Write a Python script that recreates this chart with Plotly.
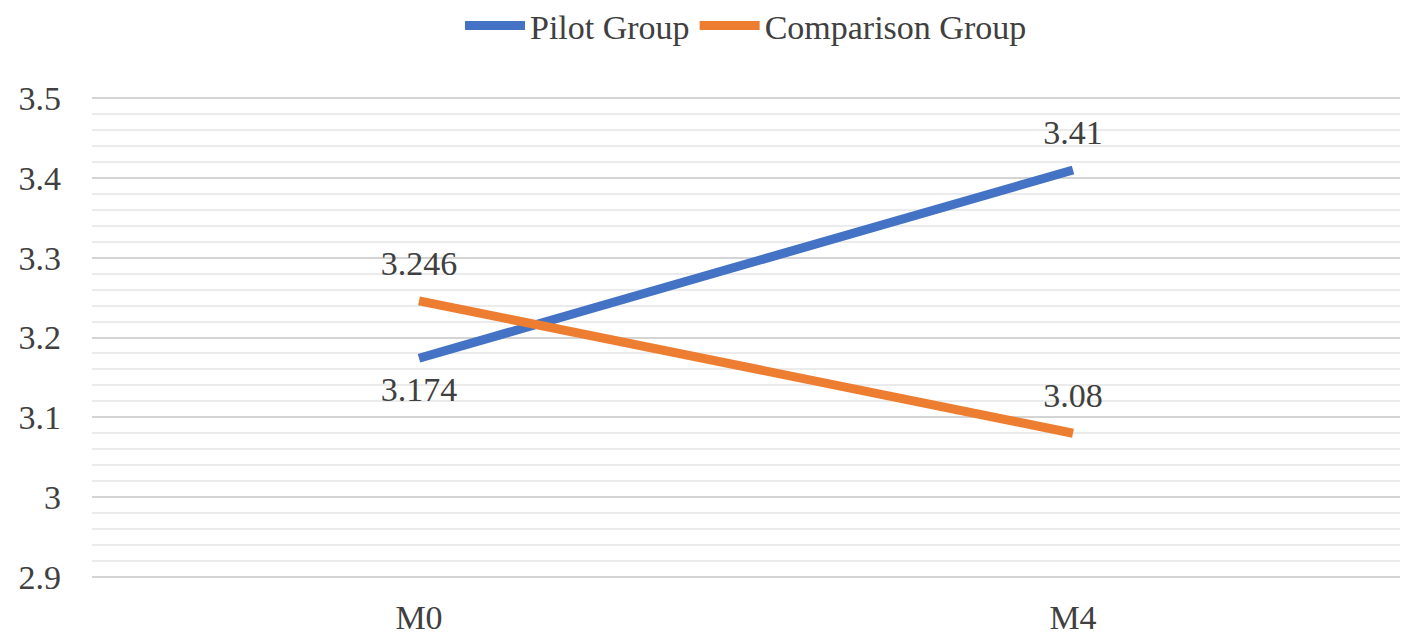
import plotly.graph_objects as go

# data
periods = ['M0', 'M4']
pilot = [3.174, 3.41]
comparison = [3.246, 3.08]
pilot_pos = ['bottom center', 'top center']
comparison_pos = ['top center', 'top center']

font_family = 'Times New Roman, Liberation Serif, DejaVu Serif, serif'
text_color = '#404040'
fsize = 34

fig = go.Figure()
fig.add_trace(go.Scatter(
    x=periods, y=pilot, name='Pilot Group', mode='lines+markers+text',
    line=dict(color='#4472C4', width=9),
    marker=dict(size=26, color='rgba(0,0,0,0)'),
    text=[str(v) for v in pilot], textposition=pilot_pos,
    textfont=dict(size=fsize, color=text_color, family=font_family),
))
fig.add_trace(go.Scatter(
    x=periods, y=comparison, name='Comparison Group', mode='lines+markers+text',
    line=dict(color='#ED7D31', width=9),
    marker=dict(size=26, color='rgba(0,0,0,0)'),
    text=[str(v) for v in comparison], textposition=comparison_pos,
    textfont=dict(size=fsize, color=text_color, family=font_family),
))

# page has an 8px body margin, so the margins are shifted by that
fig.update_layout(
    width=1417, height=638,
    plot_bgcolor='white', paper_bgcolor='white',
    margin=dict(l=84, r=25, t=89, b=68, autoexpand=False),
    font=dict(family=font_family, size=fsize, color=text_color),
    legend=dict(orientation='h', x=0.5, xanchor='center', y=0.972, yanchor='middle',
                yref='container', font=dict(size=34, family=font_family), itemwidth=60,
                traceorder='normal'),
    showlegend=True,
)

fig.update_xaxes(
    range=[-0.5, 1.5], showgrid=False, zeroline=False, showline=False, automargin=False,
    ticks='', ticklabelstandoff=16, tickfont=dict(size=fsize, color=text_color, family=font_family),
)
fig.update_yaxes(
    range=[2.8985, 3.5015], dtick=0.1, tick0=2.9, showgrid=True, gridcolor='#d4d4d4', gridwidth=2,
    zeroline=False, showline=False, ticks='', ticklabelstandoff=30, automargin=False,
    tickfont=dict(size=fsize, color=text_color, family=font_family), tickformat='~g',
    minor=dict(dtick=0.02, tick0=2.9, showgrid=True, gridcolor='#ebebeb', gridwidth=2),
)

fig.write_html('out.html')
